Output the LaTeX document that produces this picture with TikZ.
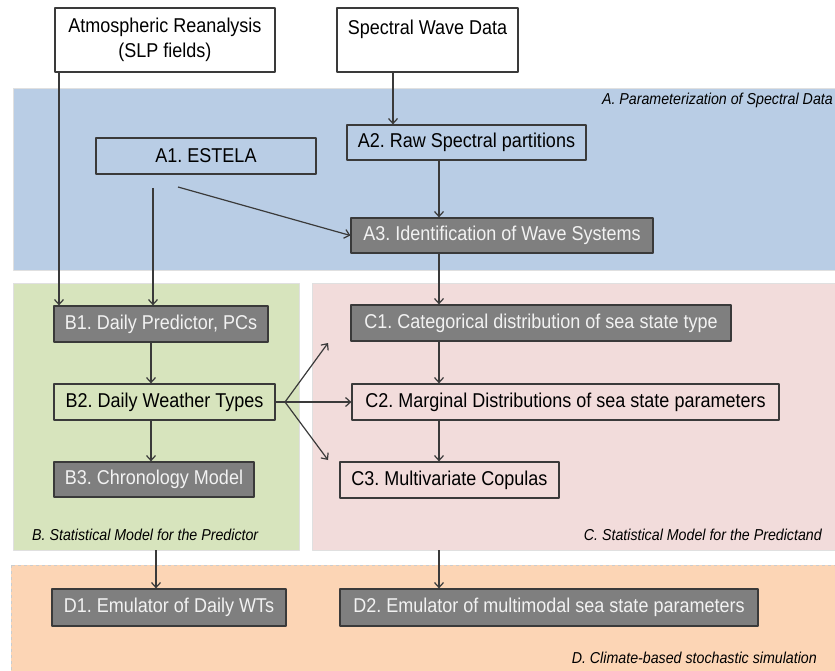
\documentclass[tikz,border=0pt]{standalone}
\usepackage{fontspec}
\setmainfont[FakeStretch=0.9]{Liberation Sans}
\usetikzlibrary{arrows.meta}
\definecolor{paneA}{HTML}{B9CDE5}
\definecolor{paneB}{HTML}{D7E4BD}
\definecolor{paneC}{HTML}{F2DCDB}
\definecolor{paneD}{HTML}{FCD5B5}
\definecolor{boxgray}{HTML}{7F7F7F}
\definecolor{boxline}{HTML}{3A3A3A}
\frenchspacing
\begin{document}
\begin{tikzpicture}[x=1pt,y=-1pt,line join=round,>={Straight Barb[length=5pt,width=9pt]},
  box/.style={draw=boxline,line width=1.2pt,inner sep=0pt,minimum height=36pt,font=\fontsize{20}{24.5}\selectfont},
  dark/.style={box,fill=boxgray,text=white!95!black},
  lbl/.style={inner sep=0pt,font=\fontsize{15.8}{18}\selectfont\itshape},
  flow/.style={->,line width=1.2pt,draw=boxline}]
\useasboundingbox (0,0) rectangle (835,671);
\fill[paneA,draw=black!12] (13,88) rectangle (840,270);
\fill[paneB,draw=black!12] (13,283) rectangle (299,550);
\fill[paneC,draw=black!12] (312,283) rectangle (840,550);
\fill[paneD,draw=black!20,dashed] (11,565) rectangle (840,680);
\node[lbl,anchor=east] (labA) at (833,100) {A. Parameterization of Spectral Data};
\node[lbl,anchor=west] (labB) at (32,535) {B. Statistical Model for the Predictor};
\node[lbl,anchor=east] (labC) at (822,535) {C. Statistical Model for the Predictand};
\node[lbl,anchor=east] (labD) at (817,658) {D. Climate-based stochastic simulation};
\node[box,fill=white,minimum width=220pt,minimum height=64pt,align=center] (atm) at (165,40) {Atmospheric Reanalysis\\(SLP fields)};
\node[box,fill=white,minimum width=181pt,minimum height=64pt,align=center] (swd) at (427.5,40) {Spectral Wave Data\\\mbox{}};
\node[box,minimum width=220pt] (A1) at (206,156) {A1. ESTELA};
\node[box,minimum width=239pt,minimum height=35pt] (A2) at (466.5,142.5) {A2. Raw Spectral partitions};
\node[dark,minimum width=302pt,minimum height=35pt] (A3) at (502,235.5) {A3. Identification of Wave Systems};
\node[dark,minimum width=214pt] (B1) at (161,324) {B1. Daily Predictor, PCs};
\node[box,minimum width=221pt] (B2) at (164.5,402) {B2. Daily Weather Types};
\node[dark,minimum width=200pt,minimum height=35pt] (B3) at (154,479.5) {B3. Chronology Model};
\node[dark,minimum width=380pt] (C1) at (541,323) {C1. Categorical distribution of sea state type};
\node[box,minimum width=427pt] (C2) at (565.5,402) {C2. Marginal Distributions of sea state parameters};
\node[box,minimum width=219pt] (C3) at (449.5,480) {C3. Multivariate Copulas};
\node[dark,minimum width=234pt,minimum height=37pt] (D1) at (169,607.5) {D1. Emulator of Daily WTs};
\node[dark,minimum width=418pt,minimum height=37pt] (D2) at (549,607.5) {D2. Emulator of multimodal sea state parameters};
\coordinate (spine) at (439,0);
\coordinate (bline) at (151,0);
\coordinate (slp) at (59,72);
\coordinate (est) at (153,188);
\coordinate (est2) at (178,187);
\coordinate (wav) at (393,72);
\coordinate (fork) at (285,402);
\coordinate (c1tip) at (328,343);
\coordinate (c3tip) at (328,460);
\coordinate (bout) at (156,550);
\coordinate (cout) at (439,550);
\draw[flow] (slp) -- (slp |- B1.north);
\draw[flow] (est) -- (est |- B1.north);
\draw[flow] (est2) -- (A3.west);
\draw[flow] (wav) -- (wav |- A2.north);
\draw[flow] (A2.south -| spine) -- (A3.north -| spine);
\draw[flow] (A3.south -| spine) -- (C1.north -| spine);
\draw[flow] (C1.south -| spine) -- (C2.north -| spine);
\draw[flow] (C2.south -| spine) -- (C3.north -| spine);
\draw[flow] (B1.south -| bline) -- (B2.north -| bline);
\draw[flow] (B2.south -| bline) -- (B3.north -| bline);
\draw[line width=1.2pt,draw=boxline] (B2.east) -- (fork);
\draw[flow] (fork) -- (c1tip);
\draw[flow] (fork) -- (C2.west);
\draw[flow] (fork) -- (c3tip);
\draw[flow] (bout) -- (bout |- D1.north);
\draw[flow] (cout) -- (cout |- D2.north);
\end{tikzpicture}
\end{document}
